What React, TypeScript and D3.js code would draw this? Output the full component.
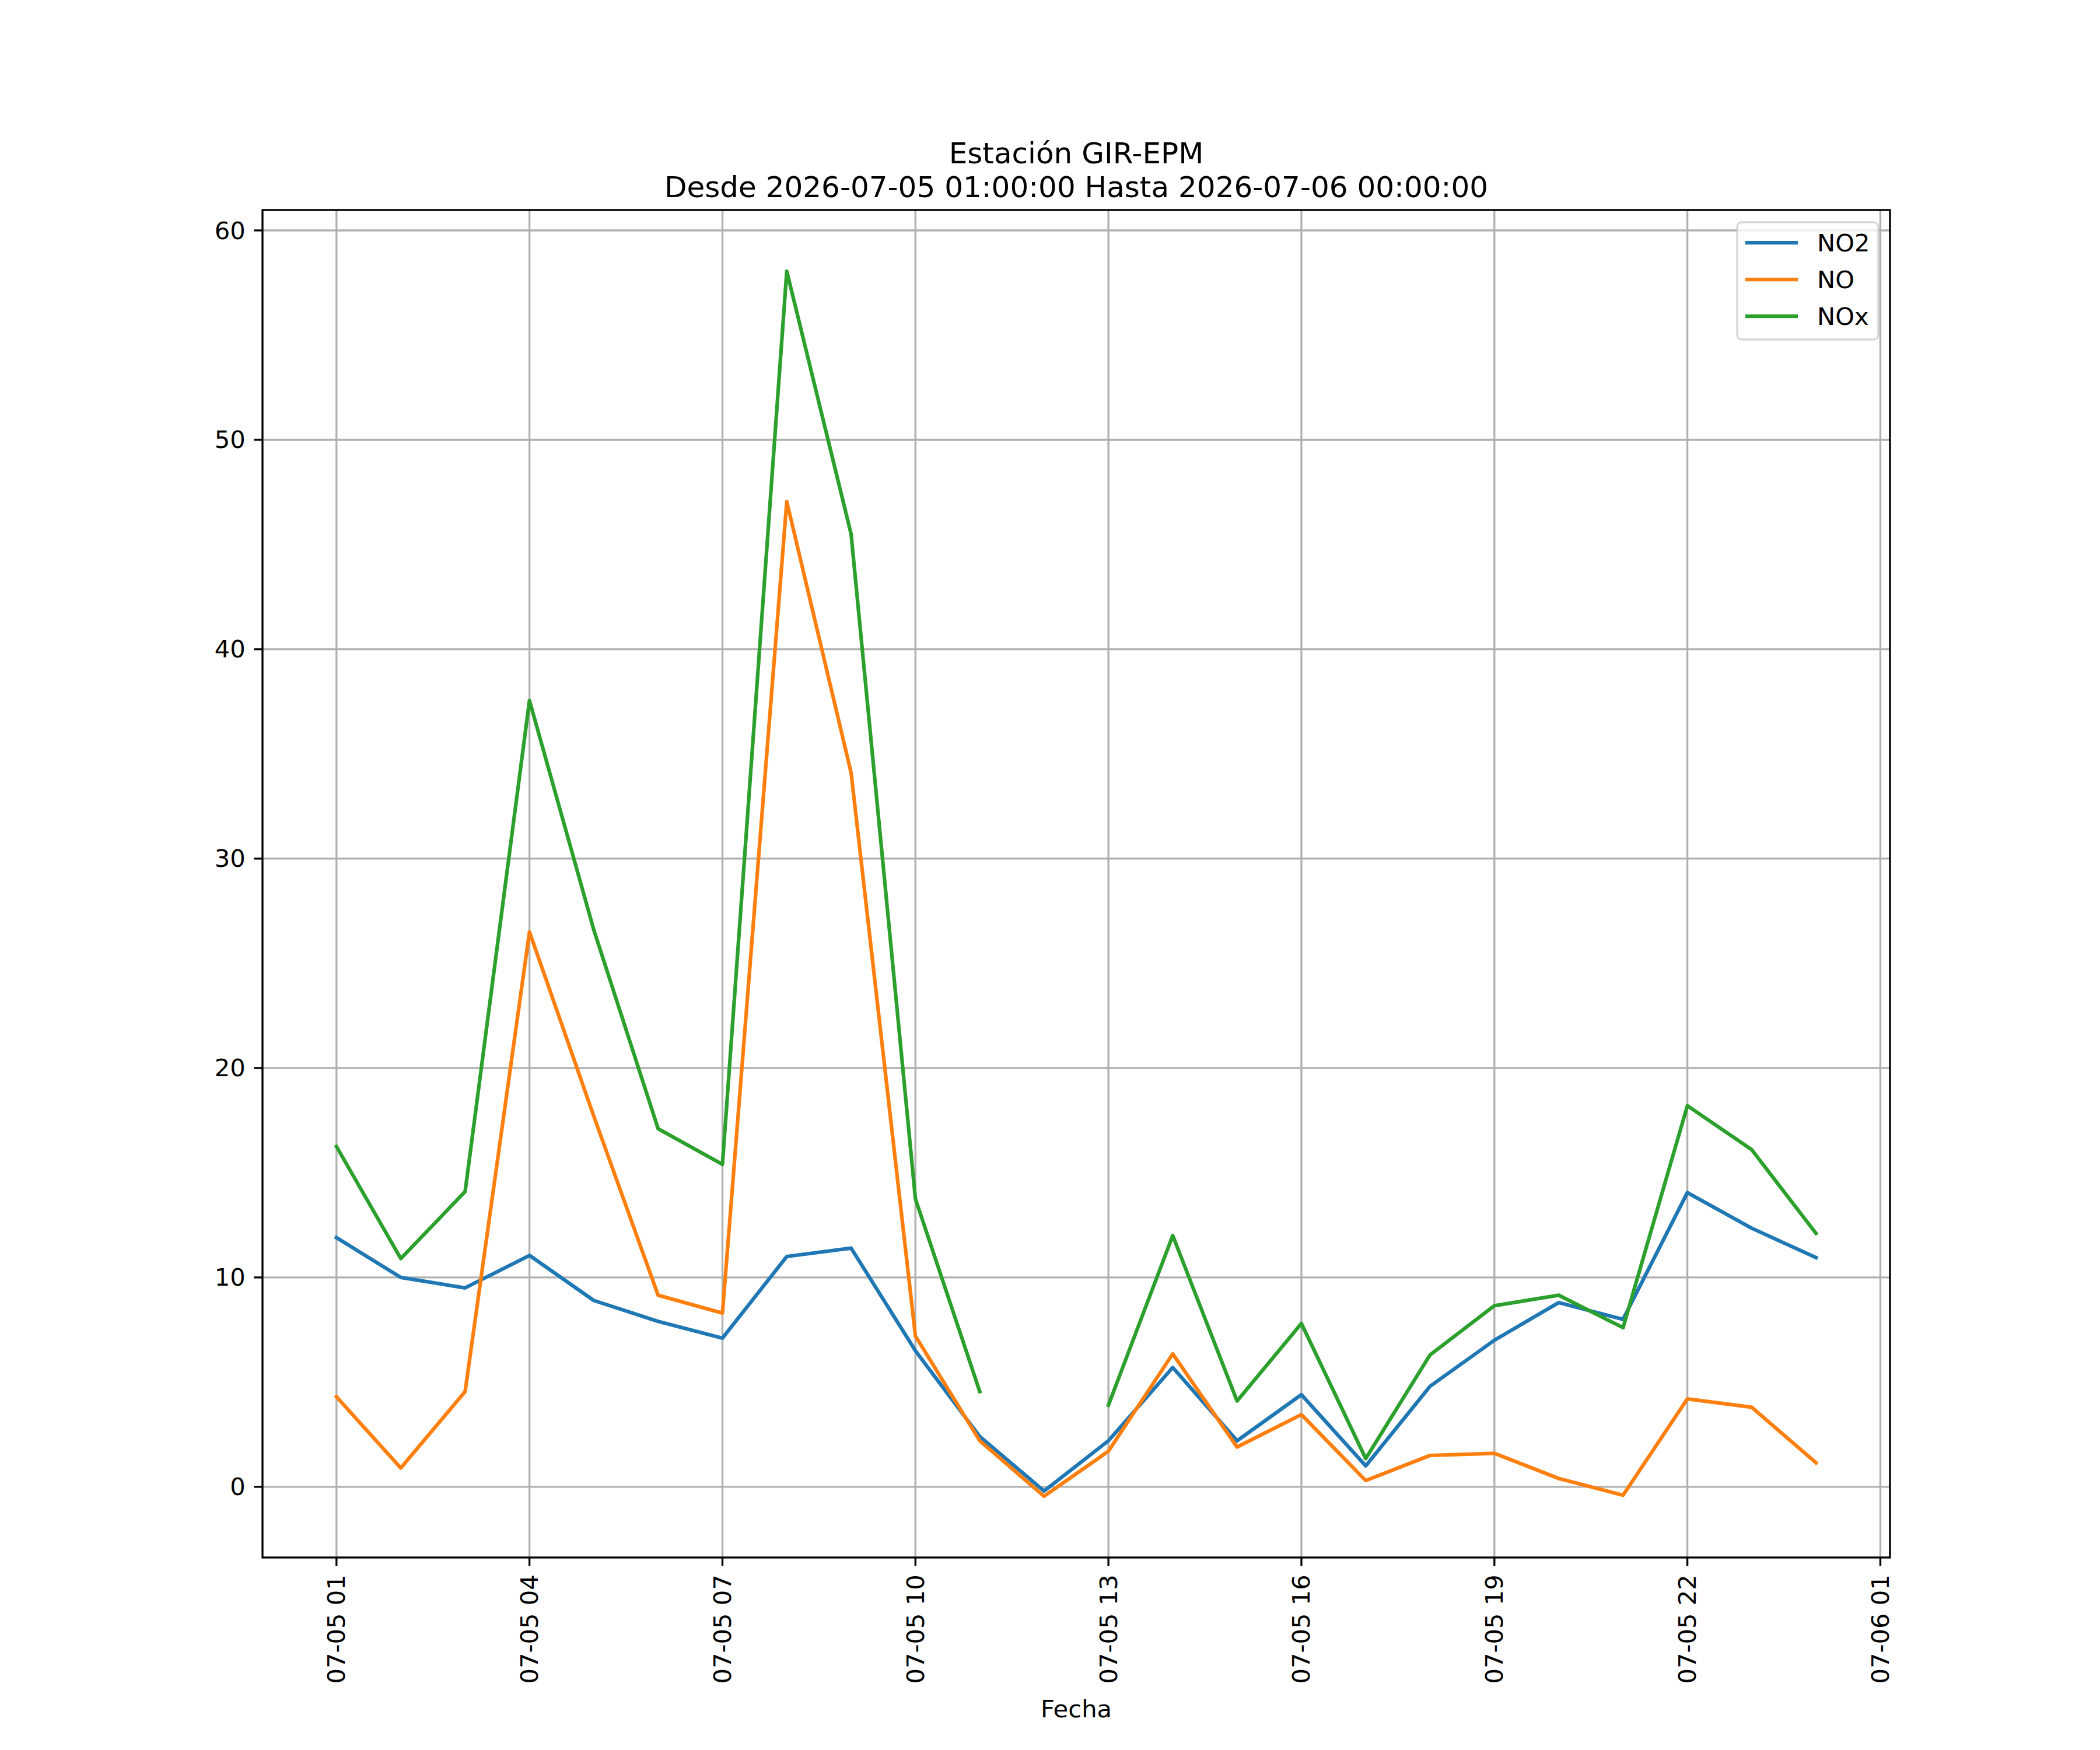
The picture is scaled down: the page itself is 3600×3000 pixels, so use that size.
import * as d3 from 'd3';

// hourly readings, 2026-07-05 01:00 .. 2026-07-06 00:00
const hours = d3.range(1, 25);
const no2Values = [11.9, 10.0, 9.5, 11.05, 8.9, 7.9, 7.1, 11.0, 11.4, 6.5, 2.4, -0.2, 2.2, 5.7, 2.2, 4.4, 1.0, 4.8, 7.0, 8.8, 8.0, 14.05, 12.35, 10.95];
const noValues = [4.3, 0.9, 4.55, 26.5, 17.7, 9.15, 8.3, 47.05, 34.1, 7.2, 2.2, -0.45, 1.7, 6.35, 1.9, 3.45, 0.3, 1.5, 1.6, 0.4, -0.4, 4.2, 3.8, 1.15];
const noxValues = [16.25, 10.9, 14.1, 37.55, 26.6, 17.1, 15.4, 58.05, 45.5, 13.75, 4.55, null, 3.9, 12.0, 4.1, 7.8, 1.35, 6.3, 8.65, 9.15, 7.6, 18.2, 16.1, 12.1];

const seriesNames = ['NO2', 'NO', 'NOx'];
const seriesColors = ['#1f77b4', '#ff7f0e', '#2ca02c'];
const yTicks = [0, 10, 20, 30, 40, 50, 60];
const tickHours = [1, 4, 7, 10, 13, 16, 19, 22, 25];

const titleLines = ['Estación GIR-EPM', 'Desde 2026-07-05 01:00:00 Hasta 2026-07-06 00:00:00'];
const xLabel = 'Fecha';

const W = 3600;
const H = 3000;
const margin = { left: 450, right: 360, top: 360, bottom: 330 };
const FONT = '"DejaVu Sans", sans-serif';
const fs = 41.67;

type Pt = { t: Date; v: number | null };

export default function App() {
  const times = hours.map(h => new Date(2026, 6, 5, h));
  const series: Pt[][] = [no2Values, noValues, noxValues].map(vals =>
    vals.map((v, i) => ({ t: times[i], v }))
  );

  const t0 = +times[0];
  const t1 = +times[times.length - 1];
  const span = t1 - t0;
  const x = d3.scaleTime()
    .domain([new Date(t0 - span * 0.05), new Date(t1 + span * 0.05)])
    .range([margin.left, W - margin.right]);

  const allVals = [...no2Values, ...noValues, ...noxValues].filter(v => v != null) as number[];
  const yMin = d3.min(allVals) || 0;
  const yMax = d3.max(allVals) || 0;
  const yPad = (yMax - yMin) * 0.05;
  const y = d3.scaleLinear()
    .domain([yMin - yPad, yMax + yPad])
    .range([H - margin.bottom, margin.top]);

  const line = d3.line<Pt>()
    .defined(d => d.v != null)
    .x(d => x(d.t))
    .y(d => y(d.v as number));

  const fmt = d3.timeFormat('%m-%d %H');
  const xTicks = tickHours.map(h => new Date(2026, 6, 5, h));

  const x0 = margin.left;
  const x1 = W - margin.right;
  const yTop = margin.top;
  const yBot = H - margin.bottom;
  const cx = (x0 + x1) / 2;

  // legend
  const lgX = 2978;
  const lgY = 381;
  const lgW = 242;
  const lgH = 201;

  return (
    <svg width={W} height={H} style={{ position: 'absolute', left: 0, top: 0, background: '#fff' }} fontFamily={FONT}>
      <defs>
        <clipPath id="plot">
          <rect x={x0} y={yTop} width={x1 - x0} height={yBot - yTop} />
        </clipPath>
      </defs>
      <rect x={0} y={0} width={W} height={H} fill="#fff" />

      {/* grid */}
      <g stroke="#b0b0b0" strokeWidth={3.33}>
        {xTicks.map((t, i) => (
          <line key={'gx' + i} x1={x(t)} x2={x(t)} y1={yTop} y2={yBot} />
        ))}
        {yTicks.map(v => (
          <line key={'gy' + v} x1={x0} x2={x1} y1={y(v)} y2={y(v)} />
        ))}
      </g>

      {/* series */}
      <g clipPath="url(#plot)" fill="none" strokeWidth={6.25} strokeLinejoin="round" strokeLinecap="square">
        {series.map((s, i) => (
          <path key={seriesNames[i]} d={line(s) || ''} stroke={seriesColors[i]} />
        ))}
      </g>

      {/* spines */}
      <rect x={x0} y={yTop} width={x1 - x0} height={yBot - yTop} fill="none" stroke="#000" strokeWidth={3.33} />

      {/* x ticks */}
      {xTicks.map((t, i) => (
        <g key={'xt' + i} transform={`translate(${x(t)},${yBot})`}>
          <line y1={0} y2={14.6} stroke="#000" strokeWidth={3.33} />
          <text
            transform={`translate(0,${29.2}) rotate(-90)`}
            textAnchor="end"
            dominantBaseline="central"
            fontSize={fs}
          >
            {fmt(t)}
          </text>
        </g>
      ))}

      {/* y ticks */}
      {yTicks.map(v => (
        <g key={'yt' + v} transform={`translate(${x0},${y(v)})`}>
          <line x1={0} x2={-14.6} stroke="#000" strokeWidth={3.33} />
          <text x={-29.2} textAnchor="end" dominantBaseline="central" fontSize={fs}>
            {v}
          </text>
        </g>
      ))}

      {/* title */}
      <text x={cx} y={280} textAnchor="middle" fontSize={50}>{titleLines[0]}</text>
      <text x={cx} y={338} textAnchor="middle" fontSize={50}>{titleLines[1]}</text>

      {/* x label */}
      <text x={cx} y={2944} textAnchor="middle" fontSize={fs}>{xLabel}</text>

      {/* legend */}
      <rect x={lgX} y={lgY} width={lgW} height={lgH} rx={8} ry={8}
        fill="#fff" fillOpacity={0.8} stroke="#cccccc" strokeOpacity={0.8} strokeWidth={3.33} />
      {seriesNames.map((name, i) => {
        const ry = 416 + i * 63;
        return (
          <g key={'lg' + name}>
            <line x1={2992} x2={3082} y1={ry} y2={ry} stroke={seriesColors[i]} strokeWidth={6.25} />
            <text x={3115} y={ry} dominantBaseline="central" fontSize={fs}>{name}</text>
          </g>
        );
      })}
    </svg>
  );
}
